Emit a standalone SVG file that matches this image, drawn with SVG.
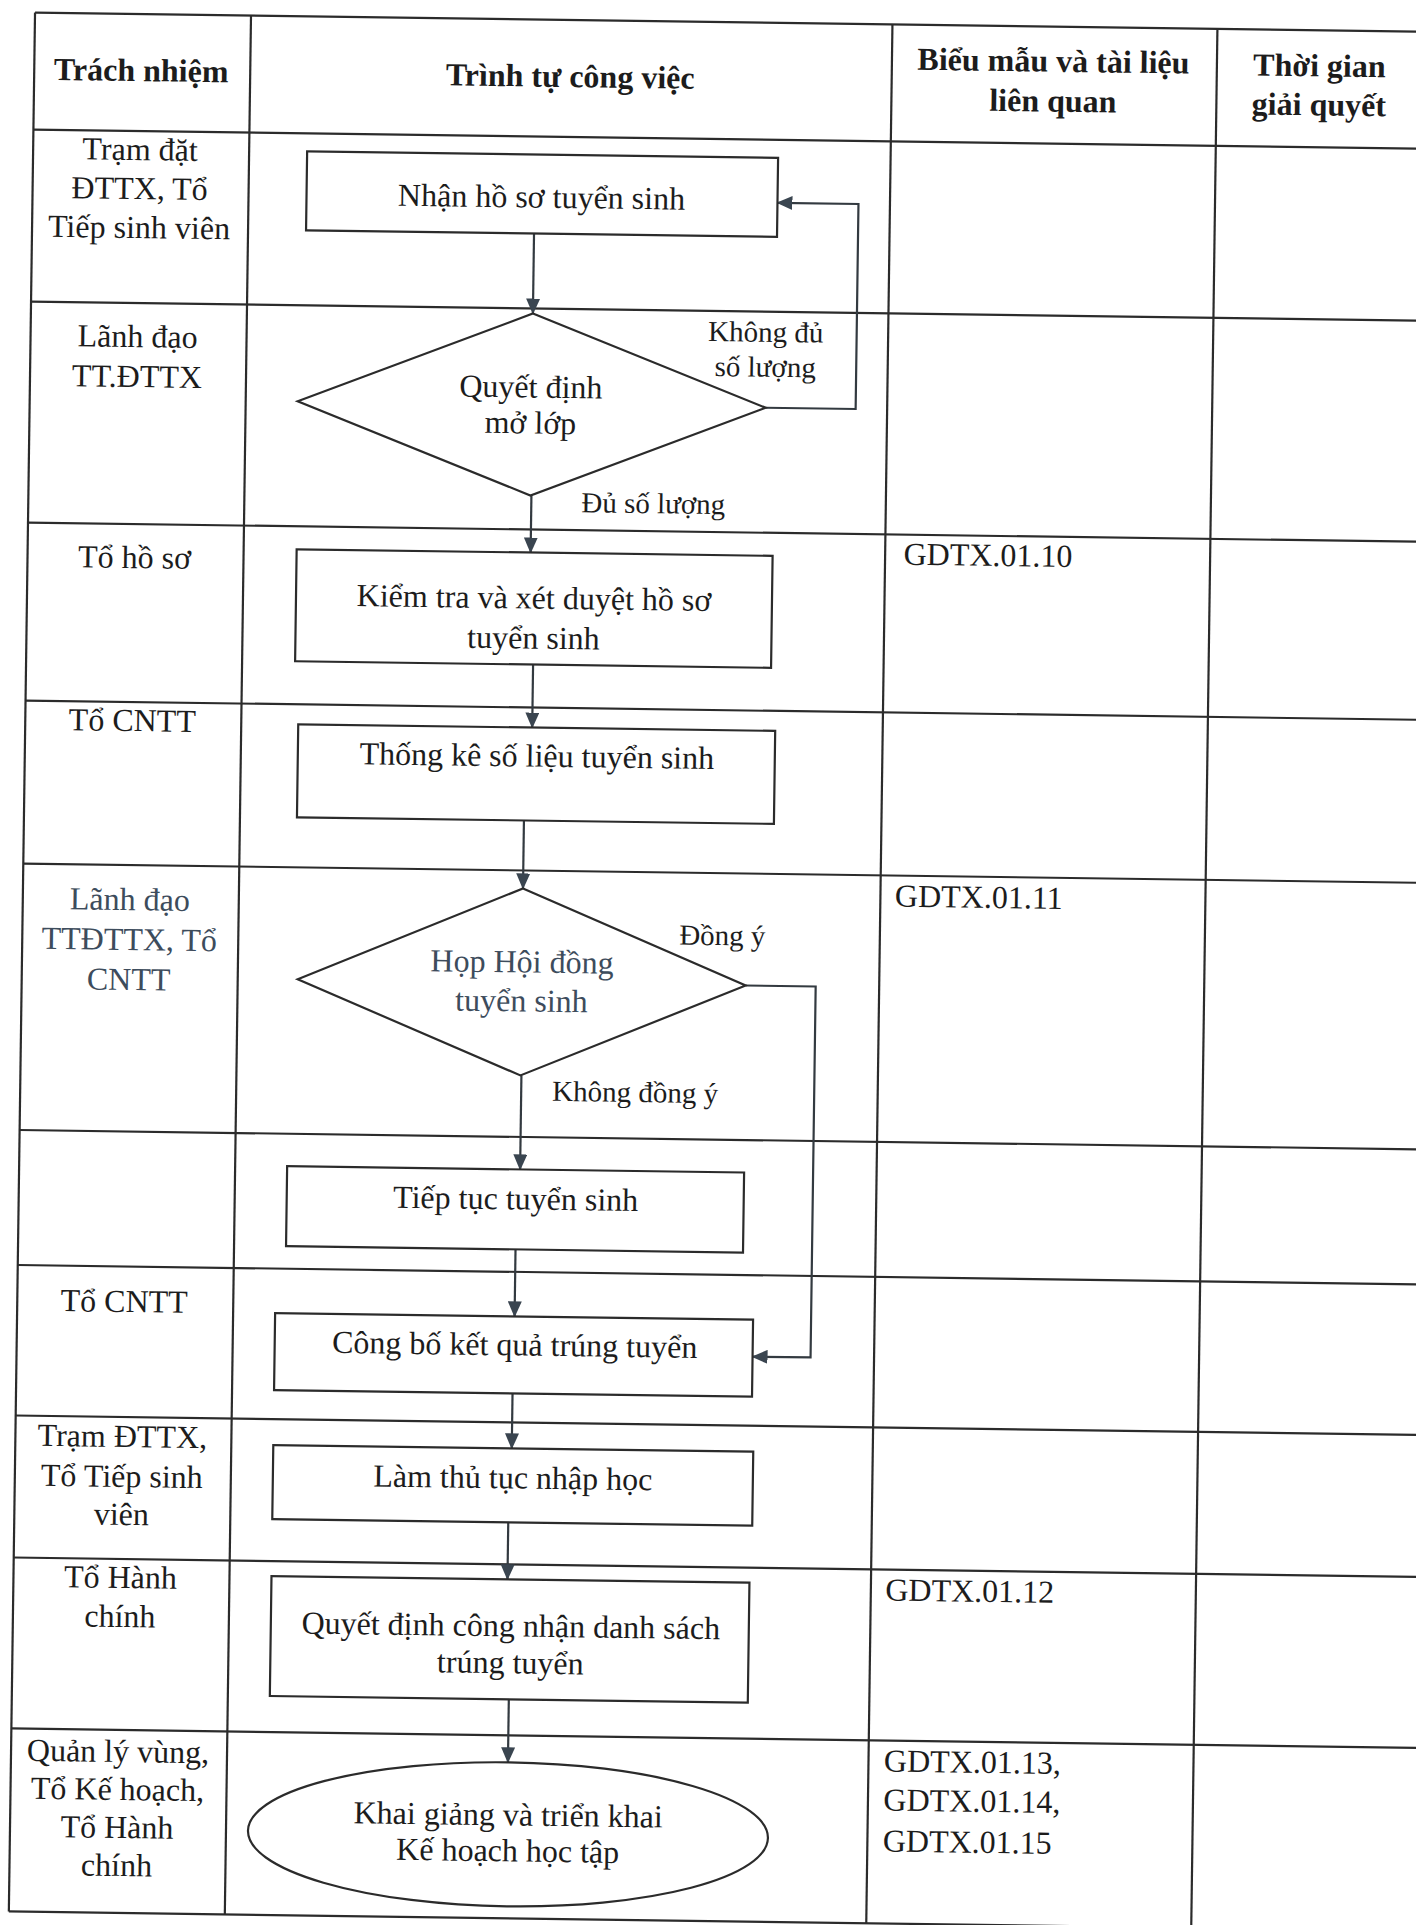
<svg xmlns="http://www.w3.org/2000/svg" width="1416" height="1925" viewBox="0 0 1416 1925">
<style>
.grid line{stroke:#2b2b2b;stroke-width:2.2}
.shape{fill:#fff;stroke:#2b2b2b;stroke-width:2.2}
text{font-family:"Liberation Serif","Times New Roman",serif;font-size:32px;fill:#1c1c1c;text-anchor:middle}
.hdr{font-weight:bold}
.blue{fill:#3d4c5c}
.lbl{font-size:29px}
.ls{text-anchor:start}
.conn path{fill:none;stroke:#333a40;stroke-width:2.2}
</style>
<defs>
<marker id="arr" markerUnits="userSpaceOnUse" markerWidth="16" markerHeight="14" refX="15" refY="7" orient="auto">
<path d="M0,0 L16,7 L0,14 z" fill="#3a4550"/>
</marker>
</defs>
<rect width="1416" height="1925" fill="#fff"/>
<g transform="rotate(0.79 708 962)">
<g class="grid" id="table">
<line x1="22" y1="22" x2="22" y2="1921"/>
<line x1="238" y1="22" x2="238" y2="1921"/>
<line x1="879.5" y1="22" x2="879.5" y2="1921"/>
<line x1="1204.5" y1="22" x2="1204.5" y2="1921"/>
<line x1="22" y1="22" x2="1460" y2="22"/>
<line x1="22" y1="139" x2="1460" y2="139"/>
<line x1="22" y1="311" x2="1460" y2="311"/>
<line x1="22" y1="532" x2="1460" y2="532"/>
<line x1="22" y1="710" x2="1460" y2="710"/>
<line x1="22" y1="873" x2="1460" y2="873"/>
<line x1="22" y1="1139.5" x2="1460" y2="1139.5"/>
<line x1="22" y1="1274.5" x2="1460" y2="1274.5"/>
<line x1="22" y1="1425" x2="1460" y2="1425"/>
<line x1="22" y1="1567" x2="1460" y2="1567"/>
<line x1="22" y1="1738" x2="1460" y2="1738"/>
<line x1="22" y1="1921" x2="1460" y2="1921"/>
</g>
<g id="headers">
<text class="hdr" x="129" y="89">Trách nhiệm</text>
<text class="hdr" x="558" y="89">Trình tự công việc</text>
<text class="hdr" x="1041" y="67">Biểu mẫu và tài liệu</text>
<text class="hdr" x="1041" y="107">liên quan</text>
<text class="hdr" x="1307" y="68">Thời gian</text>
<text class="hdr" x="1307" y="107">giải quyết</text>
</g>
<g id="responsibility">
<text x="129" y="168">Trạm đặt</text>
<text x="129" y="207">ĐTTX, Tổ</text>
<text x="129" y="246">Tiếp sinh viên</text>
<text x="129" y="355">Lãnh đạo</text>
<text x="129" y="395">TT.ĐTTX</text>
<text x="129" y="576">Tổ hồ sơ</text>
<text x="129" y="739">Tổ CNTT</text>
<text class="blue" x="129" y="918">Lãnh đạo</text>
<text class="blue" x="129" y="958">TTĐTTX, Tổ</text>
<text class="blue" x="129" y="998">CNTT</text>
<text x="129" y="1320">Tổ CNTT</text>
<text x="129" y="1455">Trạm ĐTTX,</text>
<text x="129" y="1495">Tổ Tiếp sinh</text>
<text x="129" y="1533">viên</text>
<text x="129" y="1596">Tổ Hành</text>
<text x="129" y="1635">chính</text>
<text x="129" y="1770">Quản lý vùng,</text>
<text x="129" y="1808">Tổ Kế hoạch,</text>
<text x="129" y="1846">Tổ Hành</text>
<text x="129" y="1884">chính</text>
</g>
<g id="forms">
<text class="ls" x="898" y="562">GDTX.01.10</text>
<text class="ls" x="894" y="904">GDTX.01.11</text>
<text class="ls" x="894" y="1598">GDTX.01.12</text>
<text class="ls" x="895" y="1769">GDTX.01.13,</text>
<text class="ls" x="895" y="1808">GDTX.01.14,</text>
<text class="ls" x="895" y="1849">GDTX.01.15</text>
</g>
<g class="conn" id="connectors">
<path d="M524,236 V316" marker-end="url(#arr)"/>
<path d="M758,407 H848 V202 H767" marker-end="url(#arr)"/>
<path d="M525,498 V555" marker-end="url(#arr)"/>
<path d="M529,667 V730" marker-end="url(#arr)"/>
<path d="M522,823 V891" marker-end="url(#arr)"/>
<path d="M746,985 H816 V1356 H758" marker-end="url(#arr)"/>
<path d="M523,1078 V1172" marker-end="url(#arr)"/>
<path d="M519.5,1252 V1319" marker-end="url(#arr)"/>
<path d="M518.5,1396 V1451" marker-end="url(#arr)"/>
<path d="M516,1525 V1582" marker-end="url(#arr)"/>
<path d="M519,1702 V1765" marker-end="url(#arr)"/>
</g>
<g id="labels">
<text class="lbl" x="757" y="341">Không đủ</text>
<text class="lbl" x="757" y="376">số lượng</text>
<text class="lbl" x="647" y="514">Đủ số lượng</text>
<text class="lbl" x="722" y="945">Đồng ý</text>
<text class="lbl" x="637" y="1103">Không đồng ý</text>
</g>
<g id="n1"><rect class="shape" x="296" y="157" width="471" height="79"/><text x="531" y="210">Nhận hồ sơ tuyển sinh</text></g>
<g id="n2"><polygon class="shape" points="524,316 758,407 524,498 290,407"/><text x="523" y="400">Quyết định</text><text x="523" y="436">mở lớp</text></g>
<g id="n3"><rect class="shape" x="291" y="555" width="476" height="112"/><text x="529" y="611">Kiểm tra và xét duyệt hồ sơ</text><text x="529" y="651">tuyển sinh</text></g>
<g id="n4"><rect class="shape" x="295" y="730" width="477" height="93"/><text x="534" y="769">Thống kê số liệu tuyển sinh</text></g>
<g id="n5"><polygon class="shape" points="522,891 746,985 522,1078 298,985"/><text class="blue" x="522" y="975">Họp Hội đồng</text><text class="blue" x="522" y="1014">tuyển sinh</text></g>
<g id="n6"><rect class="shape" x="290" y="1172" width="457" height="80"/><text x="519" y="1212">Tiếp tục tuyển sinh</text></g>
<g id="n7"><rect class="shape" x="280" y="1319" width="478" height="77"/><text x="520" y="1358">Công bố kết quả trúng tuyển</text></g>
<g id="n8"><rect class="shape" x="280" y="1451" width="480" height="74"/><text x="520" y="1491">Làm thủ tục nhập học</text></g>
<g id="n9"><rect class="shape" x="280" y="1582" width="478" height="120"/><text x="520" y="1639">Quyết định công nhận danh sách</text><text x="520" y="1676">trúng tuyển</text></g>
<g id="n10"><ellipse class="shape" cx="520" cy="1837" rx="260" ry="72"/><text x="520" y="1828">Khai giảng và triển khai</text><text x="520" y="1864">Kế hoạch học tập</text></g>
</g>
</svg>
